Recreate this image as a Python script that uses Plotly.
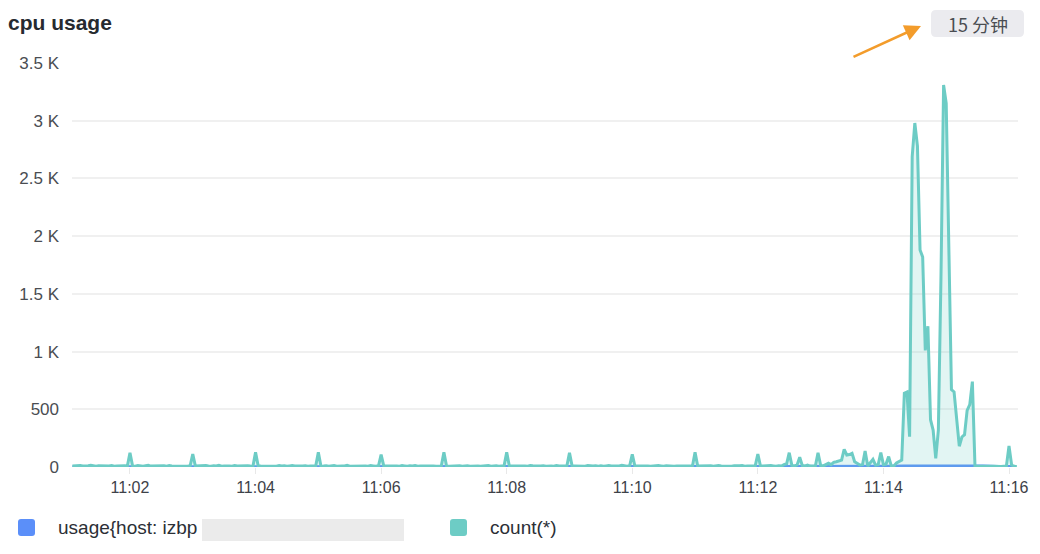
import pandas as pd
import plotly.graph_objects as go

# ---------------- data ----------------
count_start = "2024-01-01 11:01:05"
count_step_s = 2.5
count_rows = [
    [8, 10, 6, 12, 9, 7, 11, 14, 8, 6, 10, 9, 13, 7, 8, 12, 6, 9, 11, 7, 10, 8, 124, 9],
    [7, 12, 9, 6, 10, 14, 8, 9, 11, 6, 8, 10, 7, 12, 9, 8, 13, 6, 10, 9, 7, 11, 113, 8],
    [10, 7, 9, 12, 8, 6, 11, 9, 15, 7, 8, 10, 9, 6, 12, 8, 10, 7, 9, 11, 8, 6, 127, 10],
    [9, 8, 11, 6, 10, 9, 7, 13, 8, 10, 6, 9, 12, 8, 7, 10, 9, 11, 6, 8, 10, 9, 127, 7],
    [8, 11, 7, 9, 12, 6, 10, 8, 9, 14, 7, 8, 10, 6, 9, 11, 8, 7, 12, 9, 6, 10, 107, 9],
    [10, 6, 9, 11, 8, 7, 12, 9, 6, 10, 8, 13, 7, 9, 10, 6, 11, 8, 9, 7, 10, 8, 127, 8],
    [7, 9, 12, 8, 10, 6, 9, 11, 7, 8, 14, 9, 6, 10, 8, 12, 7, 9, 10, 6, 8, 11, 127, 9],
    [9, 10, 7, 8, 11, 9, 6, 12, 10, 7, 9, 8, 11, 6, 10, 9, 7, 13, 8, 10, 6, 9, 124, 8],
    [8, 7, 10, 9, 6, 12, 8, 9, 11, 7, 10, 6, 9, 12, 8, 7, 10, 9, 14, 8, 7, 10, 110, 9],
    [10, 8, 6, 11, 9, 7, 10, 8, 12, 9, 6, 10, 8, 11, 7, 9, 10, 6, 8, 12, 9, 7, 127, 8],
    [9, 7, 11, 8, 10, 6, 9, 12, 8, 7, 10, 9, 6, 11, 8, 10, 13, 7, 9, 8, 12, 10, 113, 9],
    [8, 10, 7, 12, 9, 6, 11, 8, 20, 28, 124, 14, 10, 18, 84, 12, 9, 16, 8, 12, 10, 124, 14, 9],
    [20, 32, 20, 40, 46, 55, 60, 153, 104, 108, 118, 46, 30, 17, 20, 139, 9, 35, 67, 17, 20, 124, 20, 25],
    [90, 9, 9, 35, 45, 60, 640, 650, 263, 2690, 2980, 2780, 1880, 1820, 1010, 1220, 410, 320, 75, 320, 1650, 3310, 3150, 1910],
    [670, 650, 400, 180, 260, 280, 490, 540, 740, 5, 6, 5, 7, 6, 5, 6, 7, 5, 6, 5, 6, 7, 182, 17],
    [6, 3],
]

usage_start = "2024-01-01 11:01:05"
usage_step_s = 15
usage_values = [
    2, 3, 2, 2, 3, 2, 2, 3, 2, 2, 3, 2,
    2, 3, 2, 2, 3, 2, 2, 3, 2, 2, 3, 2,
    2, 3, 2, 2, 3, 2, 2, 3, 2, 2, 3, 2,
    2, 3, 2, 2, 3, 2, 2, 3, 2, 3, 5, 6,
    5, 6, 5, 6, 6, 9, 10, 10, 11, 10, 9, 5,
    5,
]

y_tickvals = [0, 500, 1000, 1500, 2000, 2500, 3000, 3500]
y_ticktext = ["0", "500", "1 K", "1.5 K", "2 K", "2.5 K", "3 K", "3.5 K"]

title_text = "cpu usage"
range_button_text = "15 分钟"
usage_name = "usage{host: izbp"
count_name = "count(*)"

# ---------------- build ----------------
count_values = [v for row in count_rows for v in row]
count_times = pd.date_range(count_start, periods=len(count_values), freq=f"{int(count_step_s*1000)}ms")
usage_times = pd.date_range(usage_start, periods=len(usage_values), freq=f"{usage_step_s}s")

BLUE = "#5B8FF9"
TEAL = "#6DCCC5"
FONT = "Liberation Sans, Arial, sans-serif"

OFF = 8  # page body margin offset
W, H = 1040, 554
# plot area in screenshot pixels: x 72..1018, y 63..467
L, T = 72 - OFF, 63 - OFF
R, B = W - (1018 - OFF), H - (467 - OFF)
PW, PH = W - L - R, H - T - B


def px(x):
    return (x - OFF - L) / PW


def py(y):
    return (H - B - (y - OFF)) / PH


fig = go.Figure()
fig.add_trace(go.Scatter(
    x=usage_times, y=usage_values, mode="lines", name=usage_name,
    line=dict(color=BLUE, width=3), hoverinfo="skip",
))
fig.add_trace(go.Scatter(
    x=count_times, y=count_values, mode="lines", name=count_name,
    line=dict(color=TEAL, width=3), fill="tozeroy",
    fillcolor="rgba(109,204,197,0.2)", hoverinfo="skip",
))

shapes = []
annotations = []


def rounded_rect(x0, y0, x1, y1, r, color):
    X0, X1 = px(x0), px(x1)
    Y0, Y1 = py(y1), py(y0)
    rx, ry = r / PW, r / PH
    path = (f"M {X0+rx},{Y0} L {X1-rx},{Y0} Q {X1},{Y0} {X1},{Y0+ry} "
            f"L {X1},{Y1-ry} Q {X1},{Y1} {X1-rx},{Y1} L {X0+rx},{Y1} "
            f"Q {X0},{Y1} {X0},{Y1-ry} L {X0},{Y0+ry} Q {X0},{Y0} {X0+rx},{Y0} Z")
    return dict(type="path", xref="paper", yref="paper", path=path,
                fillcolor=color, line=dict(width=0), layer="above")


# range button
shapes.append(rounded_rect(931, 10, 1024, 37, 5, "#EBEBEF"))
annotations.append(dict(xref="paper", yref="paper", x=px(977.5), y=py(23.5),
                        text=range_button_text, showarrow=False,
                        font=dict(family="Noto Sans CJK SC, " + FONT, size=18, color="#4a4d52"),
                        xanchor="center", yanchor="middle"))
# arrow
annotations.append(dict(xref="paper", yref="paper", x=px(921), y=py(26),
                        ax=852 - 921, ay=57.5 - 26, axref="pixel", ayref="pixel",
                        text="", showarrow=True, arrowhead=2, arrowsize=1.3,
                        arrowwidth=2.5, arrowcolor="#F39C2B"))
# title
annotations.append(dict(xref="paper", yref="paper", x=px(6), y=py(23),
                        text=f"<b>{title_text}</b>", showarrow=False,
                        font=dict(family=FONT, size=21, color="#262a30"),
                        xanchor="left", yanchor="middle"))
# legend
shapes.append(rounded_rect(18, 519, 35, 536, 3, BLUE))
annotations.append(dict(xref="paper", yref="paper", x=px(56), y=py(527.5),
                        text=usage_name, showarrow=False,
                        font=dict(family=FONT, size=19, color="#2b2f36"),
                        xanchor="left", yanchor="middle"))
shapes.append(dict(type="rect", xref="paper", yref="paper",
                   x0=px(202), x1=px(404), y0=py(541), y1=py(519),
                   fillcolor="#EBEBEB", line=dict(width=0), layer="above"))
shapes.append(rounded_rect(450, 519, 467, 536, 3, TEAL))
annotations.append(dict(xref="paper", yref="paper", x=px(488), y=py(527.5),
                        text=count_name, showarrow=False,
                        font=dict(family=FONT, size=19, color="#2b2f36"),
                        xanchor="left", yanchor="middle"))

fig.update_layout(
    width=W, height=H,
    margin=dict(l=L, r=R, t=T, b=B),
    paper_bgcolor="white", plot_bgcolor="white",
    showlegend=False,
    shapes=shapes, annotations=annotations,
    font=dict(family=FONT, color="#4a4d52"),
)
fig.update_xaxes(
    type="date",
    range=["2024-01-01 11:01:04.6", "2024-01-01 11:16:08.6"],
    tick0="2024-01-01 11:00:00", dtick=120000, tickformat="%H:%M",
    showgrid=False, zeroline=False, showline=False,
    ticks="outside", ticklen=6, tickwidth=1, tickcolor="#E8E8E8",
    tickfont=dict(family=FONT, size=16, color="#3d4148"),
)
fig.update_yaxes(
    range=[0, 3500], tickvals=y_tickvals, ticktext=y_ticktext,
    showgrid=True, gridcolor="#F0F0F0", gridwidth=1.5,
    zeroline=False, showline=False, ticks="", ticklabelstandoff=12,
    tickfont=dict(family=FONT, size=17, color="#4a4d52"),
)

fig.write_html("out.html")
